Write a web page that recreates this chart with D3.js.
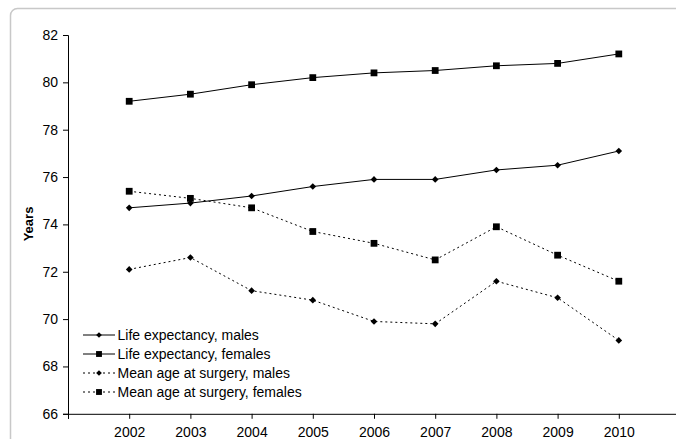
<!DOCTYPE html>
<html>
<head>
<meta charset="utf-8">
<script src="https://cdn.jsdelivr.net/npm/d3@7"></script>
<style>
  body { margin: 0; background: #fff; overflow: hidden; }
  text { font-family: "Liberation Sans", Arial, sans-serif; }
</style>
</head>
<body>
<svg id="chart" width="676" height="439"></svg>
<script>
// data
var years = [2002, 2003, 2004, 2005, 2006, 2007, 2008, 2009, 2010];
var lifeMales = [74.7, 74.9, 75.2, 75.6, 75.9, 75.9, 76.3, 76.5, 77.1];
var lifeFemales = [79.2, 79.5, 79.9, 80.2, 80.4, 80.5, 80.7, 80.8, 81.2];
var surgeryMales = [72.1, 72.6, 71.2, 70.8, 69.9, 69.8, 71.6, 70.9, 69.1];
var surgeryFemales = [75.4, 75.1, 74.7, 73.7, 73.2, 72.5, 73.9, 72.7, 71.6];
var yTicks = [66, 68, 70, 72, 74, 76, 78, 80, 82];
var seriesNames = ["Life expectancy, males", "Life expectancy, females",
  "Mean age at surgery, males", "Mean age at surgery, females"];

var svg = d3.select("#chart");

// frame (only top/left edges show)
svg.append("rect")
  .attr("x", 10.5).attr("y", 8.5)
  .attr("width", 1000).attr("height", 1000)
  .attr("rx", 7)
  .attr("fill", "none")
  .attr("stroke", "#c8c8c8")
  .attr("stroke-width", 1.5);

// scales
var xScale = d3.scaleLinear().domain([2001, 2011]).range([68, 680]);
var yScale = d3.scaleLinear().domain([66, 82]).range([413.8, 35]);

// y axis
svg.append("g")
  .attr("transform", "translate(68,0)")
  .call(d3.axisLeft(yScale).tickValues(yTicks).tickSize(5).tickPadding(5))
  .call(g => g.selectAll("text").attr("font-size", "14px").attr("fill", "#000"));

// x axis
svg.append("g")
  .attr("transform", "translate(0,413.8)")
  .call(d3.axisBottom(xScale).tickValues([2001].concat(years)).tickSize(5).tickPadding(8)
    .tickFormat(d => d === 2001 ? "" : d3.format("d")(d)))
  .call(g => g.selectAll("text").attr("font-size", "14px").attr("fill", "#000"));

svg.selectAll(".domain").attr("stroke", "#000");

// y label
svg.append("text")
  .attr("transform", "translate(33," + ((35 + 413) / 2) + ") rotate(-90)")
  .attr("text-anchor", "middle")
  .attr("font-size", "13px")
  .attr("font-weight", "bold")
  .text("Years");

// diamonds = squares turned 45deg
var series = [
  { values: lifeMales, dash: null, shape: d3.symbolSquare, size: 22, rot: 45 },
  { values: lifeFemales, dash: null, shape: d3.symbolSquare, size: 46, rot: 0 },
  { values: surgeryMales, dash: "2,3", shape: d3.symbolSquare, size: 22, rot: 45 },
  { values: surgeryFemales, dash: "2,3", shape: d3.symbolSquare, size: 46, rot: 0 }
];

var line = d3.line()
  .x((d, i) => xScale(years[i]))
  .y(d => yScale(d));

series.forEach(function (s) {
  svg.append("path")
    .datum(s.values)
    .attr("fill", "none")
    .attr("stroke", "#000")
    .attr("stroke-width", 1)
    .attr("stroke-dasharray", s.dash)
    .attr("d", line);

  svg.selectAll(null)
    .data(s.values)
    .enter().append("path")
    .attr("transform", (d, i) => "translate(" + xScale(years[i]) + "," + yScale(d) + ") rotate(" + s.rot + ")")
    .attr("d", d3.symbol().type(s.shape).size(s.size))
    .attr("fill", "#000");
});

// legend
var legend = svg.append("g");
series.forEach(function (s, i) {
  var y = 335 + i * 19;
  legend.append("line")
    .attr("x1", 83).attr("x2", 115)
    .attr("y1", y).attr("y2", y)
    .attr("stroke", "#000")
    .attr("stroke-dasharray", s.dash);
  legend.append("path")
    .attr("transform", "translate(99," + y + ") rotate(" + s.rot + ")")
    .attr("d", d3.symbol().type(s.shape).size(s.size * 0.75))
    .attr("fill", "#000");
  legend.append("text")
    .attr("x", 117.5)
    .attr("y", y + 5)
    .attr("font-size", "14px")
    .text(seriesNames[i]);
});
</script>
</body>
</html>
